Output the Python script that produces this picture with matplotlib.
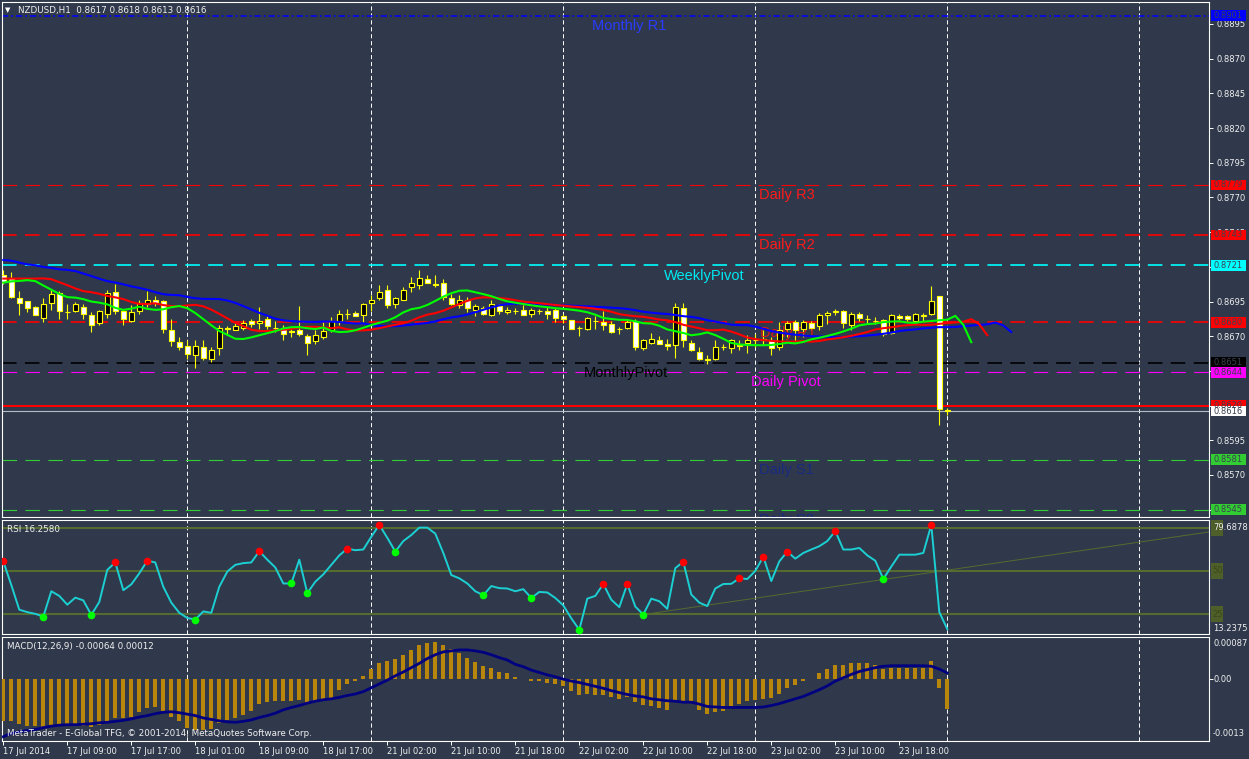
import numpy as np
import matplotlib
matplotlib.use("Agg")
import matplotlib.pyplot as plt
from matplotlib.patches import Rectangle
from matplotlib.transforms import blended_transform_factory

plt.rcParams['lines.scale_dashes'] = False

# --- Data (NZDUSD H1, bar index 0 = 17 Jul 01:00) ---
opens = [0.87139, 0.87122, 0.86978, 0.86954, 0.86910, 0.86833, 0.86942, 0.87014, 0.86877, 0.86881,
         0.86910, 0.86855, 0.86797, 0.86862, 0.87021, 0.86879, 0.86809, 0.86881, 0.86934, 0.86963,
         0.86954, 0.86747, 0.86656, 0.86629, 0.86562, 0.86622, 0.86538, 0.86617, 0.86756, 0.86747,
         0.86761, 0.86807, 0.86797, 0.86826, 0.86761, 0.86761, 0.86735, 0.86747, 0.86704, 0.86665,
         0.86694, 0.86747, 0.86809, 0.86860, 0.86865, 0.86855, 0.86939, 0.86978, 0.87035, 0.86934,
         0.86963, 0.87055, 0.87071, 0.87115, 0.87074, 0.87086, 0.86978, 0.86922, 0.86963, 0.86891,
         0.86906, 0.86855, 0.86915, 0.86877, 0.86884, 0.86886, 0.86862, 0.86881, 0.86879, 0.86886,
         0.86848, 0.86814, 0.86761, 0.86752, 0.86807, 0.86800, 0.86785, 0.86754, 0.86761, 0.86809,
         0.86617, 0.86653, 0.86670, 0.86646, 0.86634, 0.86906, 0.86651, 0.86586, 0.86533, 0.86538,
         0.86619, 0.86617, 0.86636, 0.86653, 0.86670, 0.86677, 0.86675, 0.86622, 0.86749, 0.86805,
         0.86754, 0.86795, 0.86773, 0.86853, 0.86877, 0.86884, 0.86783, 0.86862, 0.86826, 0.86812,
         0.86814, 0.86723, 0.86848, 0.86848, 0.86809, 0.86848, 0.86862, 0.86990, 0.86170]
highs = [0.87175, 0.87163, 0.87024, 0.86954, 0.86915, 0.86975, 0.87043, 0.87026, 0.86934, 0.86946,
         0.86934, 0.86874, 0.86886, 0.87035, 0.87079, 0.86891, 0.86922, 0.86958, 0.87026, 0.86987,
         0.86958, 0.86826, 0.86694, 0.86670, 0.86670, 0.86675, 0.86622, 0.86778, 0.86771, 0.86795,
         0.86819, 0.86826, 0.86910, 0.86850, 0.86809, 0.86778, 0.86761, 0.86915, 0.86718, 0.86742,
         0.86802, 0.86838, 0.86886, 0.86893, 0.86879, 0.86939, 0.86994, 0.87067, 0.87067, 0.86982,
         0.87055, 0.87127, 0.87175, 0.87139, 0.87139, 0.87115, 0.87006, 0.86994, 0.86982, 0.86934,
         0.86915, 0.86958, 0.86934, 0.86910, 0.86906, 0.86922, 0.86906, 0.86898, 0.86910, 0.86906,
         0.86862, 0.86819, 0.86773, 0.86838, 0.86843, 0.86881, 0.86809, 0.86766, 0.86814, 0.86826,
         0.86682, 0.86723, 0.86701, 0.86682, 0.86939, 0.86939, 0.86670, 0.86622, 0.86562, 0.86670,
         0.86646, 0.86677, 0.86670, 0.86708, 0.86718, 0.86747, 0.86694, 0.86802, 0.86809, 0.86814,
         0.86814, 0.86809, 0.86867, 0.86881, 0.86898, 0.86886, 0.86874, 0.86874, 0.86855, 0.86838,
         0.86826, 0.86862, 0.86857, 0.86850, 0.86867, 0.86867, 0.87060, 0.86990, 0.86180]
lows = [0.87079, 0.86975, 0.86855, 0.86874, 0.86850, 0.86802, 0.86886, 0.86821, 0.86826, 0.86874,
        0.86826, 0.86730, 0.86778, 0.86831, 0.86862, 0.86778, 0.86802, 0.86862, 0.86910, 0.86915,
        0.86723, 0.86627, 0.86598, 0.86538, 0.86473, 0.86526, 0.86514, 0.86566, 0.86706, 0.86742,
        0.86742, 0.86766, 0.86754, 0.86754, 0.86730, 0.86670, 0.86694, 0.86701, 0.86566, 0.86646,
        0.86682, 0.86730, 0.86778, 0.86826, 0.86845, 0.86802, 0.86879, 0.86958, 0.86906, 0.86906,
        0.86958, 0.87017, 0.87038, 0.87083, 0.87055, 0.86963, 0.86922, 0.86906, 0.86874, 0.86845,
        0.86850, 0.86843, 0.86857, 0.86862, 0.86862, 0.86850, 0.86838, 0.86857, 0.86826, 0.86802,
        0.86795, 0.86749, 0.86704, 0.86747, 0.86749, 0.86742, 0.86723, 0.86718, 0.86749, 0.86598,
        0.86603, 0.86646, 0.86641, 0.86603, 0.86545, 0.86622, 0.86593, 0.86526, 0.86502, 0.86526,
        0.86598, 0.86579, 0.86598, 0.86579, 0.86622, 0.86634, 0.86566, 0.86598, 0.86694, 0.86658,
        0.86694, 0.86742, 0.86742, 0.86785, 0.86850, 0.86761, 0.86742, 0.86807, 0.86790, 0.86790,
        0.86701, 0.86718, 0.86814, 0.86809, 0.86802, 0.86809, 0.86850, 0.86062, 0.86130]
closes = [0.87091, 0.86982, 0.86942, 0.86906, 0.86855, 0.86934, 0.87006, 0.86881, 0.86874, 0.86930,
          0.86862, 0.86783, 0.86879, 0.87014, 0.86881, 0.86826, 0.86877, 0.86942, 0.86958, 0.86942,
          0.86754, 0.86665, 0.86622, 0.86574, 0.86629, 0.86545, 0.86603, 0.86761, 0.86754, 0.86773,
          0.86797, 0.86785, 0.86812, 0.86773, 0.86756, 0.86718, 0.86730, 0.86718, 0.86653, 0.86706,
          0.86735, 0.86807, 0.86862, 0.86857, 0.86848, 0.86930, 0.86963, 0.87021, 0.86927, 0.86978,
          0.87035, 0.87086, 0.87122, 0.87086, 0.87071, 0.86982, 0.86930, 0.86958, 0.86906, 0.86915,
          0.86857, 0.86930, 0.86881, 0.86891, 0.86879, 0.86855, 0.86886, 0.86879, 0.86862, 0.86831,
          0.86824, 0.86754, 0.86756, 0.86829, 0.86812, 0.86778, 0.86730, 0.86749, 0.86800, 0.86622,
          0.86670, 0.86677, 0.86646, 0.86629, 0.86910, 0.86670, 0.86598, 0.86538, 0.86528, 0.86622,
          0.86624, 0.86670, 0.86631, 0.86670, 0.86675, 0.86672, 0.86617, 0.86747, 0.86795, 0.86742,
          0.86805, 0.86761, 0.86853, 0.86865, 0.86879, 0.86797, 0.86857, 0.86833, 0.86821, 0.86807,
          0.86718, 0.86855, 0.86831, 0.86826, 0.86862, 0.86853, 0.86954, 0.86177, 0.86160]

# Alligator lines before the first visible bar (values read at the left edge)
jaw_pre = [0.87249, 0.87244, 0.87230, 0.87218, 0.87211, 0.87199, 0.87192, 0.87182]
teeth_pre = [0.87115, 0.87115, 0.87115, 0.87115, 0.87115]
lips_pre = [0.87086, 0.87095, 0.87098]

rsi = [55.5, 41.8, 27.5, 26.1, 25.1, 23.5, 38.2, 35.5, 30.4, 34.5,
       32.9, 24.5, 32.0, 50.6, 54.9, 38.8, 42.2, 48.6, 55.9, 54.9,
       40.8, 31.6, 25.7, 22.7, 21.8, 26.5, 25.7, 40.8, 49.6, 53.5,
       54.5, 54.9, 61.4, 56.5, 52.0, 42.7, 42.7, 56.5, 37.1, 43.7,
       48.0, 53.5, 59.0, 62.9, 62.0, 62.4, 69.8, 76.7, 69.2, 61.2,
       67.3, 70.8, 75.1, 75.1, 71.6, 60.4, 47.6, 45.7, 42.7, 38.2,
       35.9, 41.2, 40.0, 39.8, 38.2, 39.4, 34.3, 37.8, 37.5, 34.3,
       30.0, 22.5, 15.9, 33.9, 35.5, 42.4, 33.3, 29.0, 42.4, 29.3,
       24.7, 33.9, 32.4, 28.0, 51.6, 55.3, 36.3, 31.6, 29.6, 39.8,
       42.4, 42.5, 45.7, 45.3, 50.0, 58.2, 44.1, 55.5, 61.2, 57.1,
       60.4, 62.4, 64.3, 67.3, 73.1, 62.4, 62.4, 63.3, 59.0, 55.9,
       45.3, 52.5, 59.4, 59.4, 59.4, 60.4, 76.7, 26.1, 16.26]
rsi_red_dots = [0, 14, 18, 32, 43, 47, 75, 78, 85, 92, 95, 98, 104, 116]
rsi_green_dots = [5, 11, 24, 36, 38, 49, 60, 66, 72, 80, 110]
rsi_levels = [75, 50, 25]
rsi_trend_x = [80, 150.75]
rsi_trend_y = [24.7, 72.6]

macd_hist = [-0.00088, -0.00089, -0.00095, -0.00098, -0.00099, -0.00100, -0.00096, -0.00096, -0.00098, -0.00096,
             -0.00098, -0.00100, -0.00096, -0.00088, -0.00082, -0.00082, -0.00079, -0.00070, -0.00061, -0.00060,
             -0.00068, -0.00079, -0.00089, -0.00102, -0.00107, -0.00108, -0.00105, -0.00093, -0.00086, -0.00082,
             -0.00075, -0.00067, -0.00052, -0.00049, -0.00047, -0.00047, -0.00046, -0.00044, -0.00051, -0.00049,
             -0.00045, -0.00040, -0.00023, -0.00012, -0.00005, 0.00006, 0.00020, 0.00032, 0.00036, 0.00041,
             0.00049, 0.00060, 0.00070, 0.00075, 0.00076, 0.00070, 0.00062, 0.00054, 0.00043, 0.00034,
             0.00026, 0.00022, 0.00015, 0.00011, 0.00004, -0.00001, -0.00004, -0.00005, -0.00008, -0.00012,
             -0.00015, -0.00025, -0.00033, -0.00031, -0.00033, -0.00035, -0.00039, -0.00042, -0.00039, -0.00049,
             -0.00054, -0.00058, -0.00061, -0.00065, -0.00044, -0.00046, -0.00047, -0.00065, -0.00073, -0.00070,
             -0.00067, -0.00058, -0.00052, -0.00046, -0.00045, -0.00042, -0.00040, -0.00031, -0.00020, -0.00014,
             -0.00005, -0.00001, 0.00011, 0.00021, 0.00028, 0.00028, 0.00032, 0.00032, 0.00032, 0.00029,
             0.00020, 0.00023, 0.00023, 0.00023, 0.00023, 0.00023, 0.00036, -0.00020, -0.00064]
macd_signal = [-0.00121, -0.00114, -0.00111, -0.00108, -0.00106, -0.00102, -0.00099, -0.00097, -0.00096, -0.00096,
               -0.00095, -0.00094, -0.00092, -0.00091, -0.00089, -0.00087, -0.00084, -0.00080, -0.00077, -0.00073,
               -0.00070, -0.00069, -0.00071, -0.00074, -0.00077, -0.00082, -0.00085, -0.00088, -0.00090, -0.00091,
               -0.00089, -0.00086, -0.00081, -0.00077, -0.00072, -0.00065, -0.00060, -0.00056, -0.00051, -0.00047,
               -0.00044, -0.00042, -0.00039, -0.00035, -0.00032, -0.00027, -0.00019, -0.00011, -0.00003, 0.00006,
               0.00014, 0.00023, 0.00032, 0.00042, 0.00050, 0.00056, 0.00058, 0.00060, 0.00060, 0.00058,
               0.00055, 0.00050, 0.00044, 0.00039, 0.00030, 0.00025, 0.00018, 0.00013, 0.00008, 0.00004,
               -0.00001, -0.00005, -0.00008, -0.00012, -0.00016, -0.00020, -0.00025, -0.00029, -0.00033, -0.00036,
               -0.00038, -0.00042, -0.00044, -0.00046, -0.00047, -0.00049, -0.00049, -0.00053, -0.00058, -0.00059,
               -0.00060, -0.00060, -0.00060, -0.00060, -0.00060, -0.00059, -0.00056, -0.00052, -0.00047, -0.00042,
               -0.00037, -0.00030, -0.00023, -0.00015, -0.00005, 0.00002, 0.00009, 0.00015, 0.00019, 0.00023,
               0.00026, 0.00027, 0.00027, 0.00027, 0.00027, 0.00027, 0.00026, 0.00020, 0.00012]

level_prices = [0.8901, 0.8779, 0.8743, 0.8721, 0.8680, 0.8651, 0.8644, 0.8620, 0.8616, 0.8581, 0.8545]
level_names = ["Monthly R1", "Daily R3", "Daily R2", "WeeklyPivot", "Daily R1", "MonthlyPivot",
               "Daily Pivot", None, None, "Daily S1", "Daily S2"]
label_bar = [73.6, 94.4, 94.4, 82.6, 94.6, 72.6, 93.4, None, None, 94.4, 94.4]

day_separators = [23, 46, 70, 94, 118, 142]
time_ticks = [0, 8, 16, 24, 32, 40, 48, 56, 64, 72, 80, 88, 96, 104, 112]
time_labels = ["17 Jul 2014", "17 Jul 09:00", "17 Jul 17:00", "18 Jul 01:00", "18 Jul 09:00",
               "18 Jul 17:00", "21 Jul 02:00", "21 Jul 10:00", "21 Jul 18:00", "22 Jul 02:00",
               "22 Jul 10:00", "22 Jul 18:00", "23 Jul 02:00", "23 Jul 10:00", "23 Jul 18:00"]
price_ticks = [0.8545, 0.8570, 0.8595, 0.8620, 0.8645, 0.8670, 0.8695, 0.8720,
               0.8745, 0.8770, 0.8795, 0.8820, 0.8845, 0.8870, 0.8895]

# --- Styles ---
BG = '#2f394b'
FG = '#f0f0f0'
W, H = 1249, 759
level_colors = ['#0000ff', '#ff0000', '#ff0000', '#00ffff', '#ff0000', '#000000',
                '#ff00ff', '#ff0000', '#b4bcc6', '#32cd32', '#32cd32']
level_styles = [(0, (4.5, 2.2, 1.2, 2.2)), (0, (10.5, 6)), (0, (10.5, 6)), (0, (10.5, 6)), (0, (10.5, 6)),
                (0, (10.5, 6)), (0, (10.5, 6)), '-', '-', (0, (10.5, 6)), (0, (10.5, 6))]
level_widths = [1.1, 0.8, 1.2, 1.2, 1.2, 1.2, 0.8, 1.5, 0.8, 0.8, 0.8]
label_colors = ['#2a3cff', '#ff1a1a', '#ff1a1a', '#00e8f0', '#e01818', '#000000',
                '#ff00ff', None, None, '#1a2a80', '#1a2a80']

n = len(closes)
x = np.arange(n)

fig = plt.figure(figsize=(W / 100, H / 100), dpi=100, facecolor=BG)


def px_axes(x0, y0, x1, y1):
    a = fig.add_axes([x0 / W, 1 - y1 / H, (x1 - x0) / W, (y1 - y0) / H])
    a.set_facecolor(BG)
    for s in a.spines.values():
        s.set_color('white')
        s.set_linewidth(0.8)
    a.set_xlim(-0.125, 150.75)
    a.tick_params(colors='white', labelcolor=FG, length=3, width=0.7)
    return a


ax = px_axes(2.3, 2.3, 1209.3, 517.3)
ax_rsi = px_axes(2.3, 519.7, 1209.3, 634.3)
ax_macd = px_axes(2.3, 637.0, 1209.3, 741.0)

# --- main price panel ---
ax.set_ylim(0.85395, 0.89106)
ax.yaxis.tick_right()
ax.set_yticks(price_ticks)
ax.set_yticklabels(["%.4f" % p for p in price_ticks], fontsize=6, family='DejaVu Sans')
ax.tick_params(axis='y', pad=2)
ax.set_xticks([])

for a in (ax, ax_rsi, ax_macd):
    for s in day_separators:
        a.axvline(s, color='white', lw=0.7, ls=(0, (3, 2)), zorder=1)

for p, c, st, lw in zip(level_prices, level_colors, level_styles, level_widths):
    ax.axhline(p, color=c, ls=st, lw=lw, zorder=2)

# text objects hang below their level line
for p, name, b, c in zip(level_prices, level_names, label_bar, label_colors):
    if name:
        ax.text(b, p - 0.00023, name, color=c, fontsize=10.5, family='Liberation Sans',
                va='top', ha='left', zorder=3.5, clip_on=True)

o = np.array(opens)
cl = np.array(closes)
bull = cl >= o
ax.vlines(x, lows, highs, color='#ffff00', lw=0.8, zorder=3)
ax.bar(x, np.abs(cl - o), bottom=np.minimum(o, cl), width=0.58,
       color=np.where(bull, '#000000', '#ffffff'), edgecolor='#ffff00', linewidth=0.8, zorder=4)

# Alligator: smoothed moving averages of the median price, shifted forward
median = (np.array(highs) + np.array(lows)) / 2


def alligator(pre, period):
    vals = list(pre)
    s = pre[-1]
    for m in median:
        s = (s * (period - 1) + m) / period
        vals.append(s)
    return np.array(vals)


jaw = alligator(jaw_pre, 13)
teeth = alligator(teeth_pre, 8)
lips = alligator(lips_pre, 5)
ax.plot(np.arange(len(jaw)), jaw, color='#0000ff', lw=1.5, zorder=5)
ax.plot(np.arange(len(teeth)), teeth, color='#ff0000', lw=1.5, zorder=5)
ax.plot(np.arange(len(lips)), lips, color='#00ff00', lw=1.5, zorder=5)

# price tags on the right scale
tr = blended_transform_factory(fig.transFigure, ax.transData)
tag_h = 10.5 * (0.89106 - 0.85395) / 515.0
for p, c in zip(level_prices, level_colors):
    tc = '#ffffff' if c == '#b4bcc6' else c
    ax.add_patch(Rectangle((1211 / W, p - tag_h / 2), 35 / W, tag_h, transform=tr,
                           facecolor=tc, edgecolor='none', clip_on=False, zorder=10))
    ax.text(1213 / W, p, "%.4f" % p, transform=tr, color='#3a4050', fontsize=6,
            family='DejaVu Sans', va='center', ha='left', clip_on=False, zorder=11)

fig.text(5 / W, 1 - 10 / H, "\u25bc", color='white', fontsize=5, va='center', ha='left')
fig.text(18 / W, 1 - 10 / H, "NZDUSD,H1  0.8617 0.8618 0.8613 0.8616", color=FG,
         fontsize=6.3, family='DejaVu Sans', va='center', ha='left')

# --- RSI panel ---
ax_rsi.set_ylim(13.2375, 79.6878)
ax_rsi.set_xticks([])
ax_rsi.set_yticks([])
for lv in rsi_levels:
    ax_rsi.axhline(lv, color='#556b2f', lw=1.5, zorder=2)
ax_rsi.plot(rsi_trend_x, rsi_trend_y, color='#556b2f', lw=0.7, zorder=2)
ax_rsi.plot(x, rsi, color='#1ccfd2', lw=1.4, zorder=3)
r = np.array(rsi)
ax_rsi.plot(rsi_red_dots, r[rsi_red_dots], 'o', color='#ff0000', ms=4.5, mec='#ff0000', zorder=4)
ax_rsi.plot(rsi_green_dots, r[rsi_green_dots], 'o', color='#00ff00', ms=4.5, mec='#00ff00', zorder=4)
ax_rsi.text(0.004, 0.95, "RSI 16.2580", transform=ax_rsi.transAxes, color=FG, fontsize=6.3,
            family='DejaVu Sans', va='top', ha='left')
trr = blended_transform_factory(fig.transFigure, ax_rsi.transData)
for lv in rsi_levels:
    ax_rsi.add_patch(Rectangle((1211 / W, lv - 4.7), 11.5 / W, 9.4, transform=trr,
                               facecolor='#4f5f2a', edgecolor='none', clip_on=False, zorder=10))
    ax_rsi.text(1212 / W, lv, str(lv), transform=trr, color='#3a4718', fontsize=6,
                family='DejaVu Sans', va='center', ha='left', clip_on=False, zorder=11)
fig.text(1213 / W, 1 - 527 / H, "79.6878", color=FG, fontsize=6, family='DejaVu Sans',
         va='center', ha='left', zorder=12)
fig.text(1213 / W, 1 - 628.5 / H, "13.2375", color=FG, fontsize=6, family='DejaVu Sans',
         va='center', ha='left')

# --- MACD panel ---
ax_macd.set_ylim(-0.0013, 0.00087)
ax_macd.bar(x, macd_hist, width=0.5, color='#b8860b', zorder=3)
ax_macd.plot(x, macd_signal, color='#000080', lw=2.0, zorder=4)
ax_macd.yaxis.tick_right()
ax_macd.set_yticks([0.0])
ax_macd.set_yticklabels([""])
ax_macd.set_xticks(time_ticks)
ax_macd.set_xticklabels(time_labels, fontsize=6, family='DejaVu Sans')
for lbl in ax_macd.get_xticklabels():
    lbl.set_ha('left')
ax_macd.tick_params(axis='x', pad=1.5)
ax_macd.text(0.004, 0.95, "MACD(12,26,9) -0.00064 0.00012", transform=ax_macd.transAxes, color=FG,
             fontsize=6.3, family='DejaVu Sans', va='top', ha='left')
ax_macd.text(0.004, 0.07, "MetaTrader - E-Global TFG, \u00a9 2001-2014, MetaQuotes Software Corp.",
             transform=ax_macd.transAxes, color=FG, fontsize=6.3, family='DejaVu Sans',
             va='center', ha='left', zorder=6)
for txt, py in [("0.00087", 644), ("0.00", 679), ("-0.0013", 734)]:
    fig.text(1213 / W, 1 - py / H, txt, color=FG, fontsize=6, family='DejaVu Sans',
             va='center', ha='left')

fig.savefig("out.png", dpi=100, facecolor=BG)
